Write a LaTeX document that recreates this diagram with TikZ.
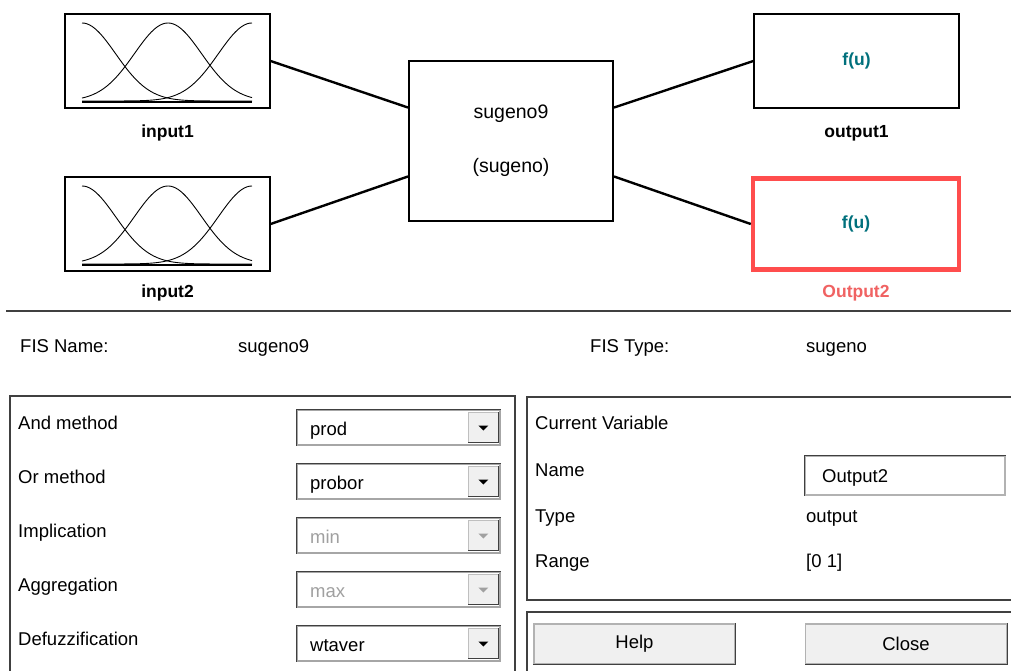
\documentclass[tikz,border=0pt]{standalone}
\usepackage{fontspec}
\setmainfont{Liberation Sans}
\usepackage{tikz}
\usetikzlibrary{calc}
\definecolor{fisRed}{HTML}{FF4D4D}
\definecolor{fisRedTxt}{HTML}{F06262}
\definecolor{fisTeal}{HTML}{00707C}
\definecolor{fisDark}{HTML}{404040}
\definecolor{fisGrey}{HTML}{A0A0A0}
\definecolor{fisBtn}{HTML}{F0F0F0}

\begin{document}
\begin{tikzpicture}[x=1pt, y=-1pt,
  font=\fontsize{18.5}{22}\selectfont,
  mfbox/.style={draw, line width=1.2pt, minimum width=205pt, minimum height=94pt, inner sep=0pt},
  sysbox/.style={draw, line width=2pt, minimum width=204pt, minimum height=160pt,
                 align=center, font=\fontsize{19.5}{22}\selectfont},
  outbox/.style={draw, line width=1.2pt, minimum width=205pt, minimum height=94pt,
                 text=fisTeal, font=\bfseries\fontsize{17.5}{20}\selectfont},
  vlbl/.style={font=\bfseries\fontsize{17.5}{20}\selectfont},
  wire/.style={line width=2.4pt},
  mf/.style={line width=0.9pt},
  txt/.style={anchor=base west, inner sep=0pt},
  panel/.style={draw=fisDark, line width=2pt},
  combo/.style={draw=gray!70, fill=white, line width=1.2pt, minimum width=203pt,
                minimum height=35pt, inner sep=0pt},
  btn/.style={draw=gray!60, fill=fisBtn, line width=1.2pt, minimum width=201pt,
              minimum height=40pt}]

\useasboundingbox (0,0) rectangle (1011,670);

% fuzzy system block diagram
\node[mfbox] (in1) at (167.5,61) {};
\node[mfbox] (in2) at (167.5,224) {};
\node[sysbox] (sys) at (511,141) {sugeno9\\[32pt](sugeno)};
\node[outbox] (out1) at (856.5,61) {f(u)};
\node[outbox, draw=fisRed, line width=4.5pt, minimum width=206pt, minimum height=91pt] (out2) at (856,224) {f(u)};

\node[vlbl] (in1lbl) at (167.5,133) {input1};
\node[vlbl] (in2lbl) at (167.5,293) {input2};
\node[vlbl] (out1lbl) at (856.5,133) {output1};
\node[vlbl, text=fisRedTxt] (out2lbl) at (856,293) {Output2};

\foreach \bx in {in1,in2}{
  \begin{scope}[shift={(\bx.center)}]
    \draw[mf] plot[domain=-85.5:84.5, samples=70] (\x,{40-78*exp(0-(((\x+85.5)/10)^2)/22.58)});
    \draw[mf] plot[domain=-85.5:84.5, samples=70] (\x,{40-78*exp(0-(((\x-0.5)/10)^2)/22.58)});
    \draw[mf] plot[domain=-85.5:84.5, samples=70] (\x,{40-78*exp(0-(((\x-84.5)/10)^2)/22.58)});
    \draw[line width=1.6pt] (-85.5,41) -- (84.5,41);
  \end{scope}
}

\draw[wire] (in1.east) -- (sys.162);
\draw[wire] (in2.east) -- (sys.199);
\draw[wire] (sys.18) -- (out1.west);
\draw[wire] (sys.-19) -- (out2.west);

\draw[fisDark, line width=2.5pt] (6,311) -- (1011,311);

% FIS name and type
\node[txt] (fisname) at (20,352) {FIS Name:};
\node[txt] (fisnameval) at (238,352) {sugeno9};
\node[txt] (fistype) at (590,352) {FIS Type:};
\node[txt] (fistypeval) at (806,352) {sugeno};

% methods panel
\draw[panel] (10,396) rectangle (515,690);
\foreach \lab/\val/\col [count=\i] in {And method/prod/black, Or method/probor/black,
    Implication/min/fisGrey, Aggregation/max/fisGrey, Defuzzification/wtaver/black}{
  \pgfmathsetmacro{\yy}{429+54*(\i-1)}
  \node[txt] (lab\i) at (18,\yy) {\lab};
  \node[combo] (cb\i) at (398.5,\yy-1.5) {};
  \draw[fisDark, line width=1pt] (cb\i.south west) |- (cb\i.north east);
  \node[txt, text=\col] (val\i) at (310,\yy+6) {\val};
  \node[draw=gray!50, fill=fisBtn, minimum width=30pt, minimum height=30pt, inner sep=0pt,
        anchor=east] (ar\i) at ([xshift=-2pt]cb\i.east) {};
  \draw[gray!50!black, line width=1pt] (ar\i.north east) |- (ar\i.south west);
  \fill[\col] ($(ar\i.center)+(-5,-2)$) -- ++(10,0) -- ++(-5,5) -- cycle;
}

% current variable panel
\draw[panel] (527,397) rectangle (1030,600);
\node[txt] (curvar) at (535,429) {Current Variable};
\node[txt] (nmlab) at (535,476) {Name};
\node[txt] (typlab) at (535,522) {Type};
\node[txt] (rnglab) at (535,567) {Range};
\node[draw=gray!60, line width=1.2pt, minimum width=200pt, minimum height=39pt] (nmbox) at (905,475.5) {};
\draw[fisDark, line width=1pt] (nmbox.south west) |- (nmbox.north east);
\node[txt] (nmval) at (822,482) {Output2};
\node[txt] (typval) at (806,522) {output};
\node[txt] (rngval) at (806,567) {[0 1]};

% buttons
\draw[panel] (527,612) rectangle (1030,690);
\node[btn] (help) at (634.5,644) {Help};
\node[btn] (close) at (906,644) {Close};
\draw[gray!50!black, line width=1.2pt] (help.north east) |- (help.south west);
\draw[gray!50!black, line width=1.2pt] (close.north east) |- (close.south west);
\end{tikzpicture}
\end{document}
